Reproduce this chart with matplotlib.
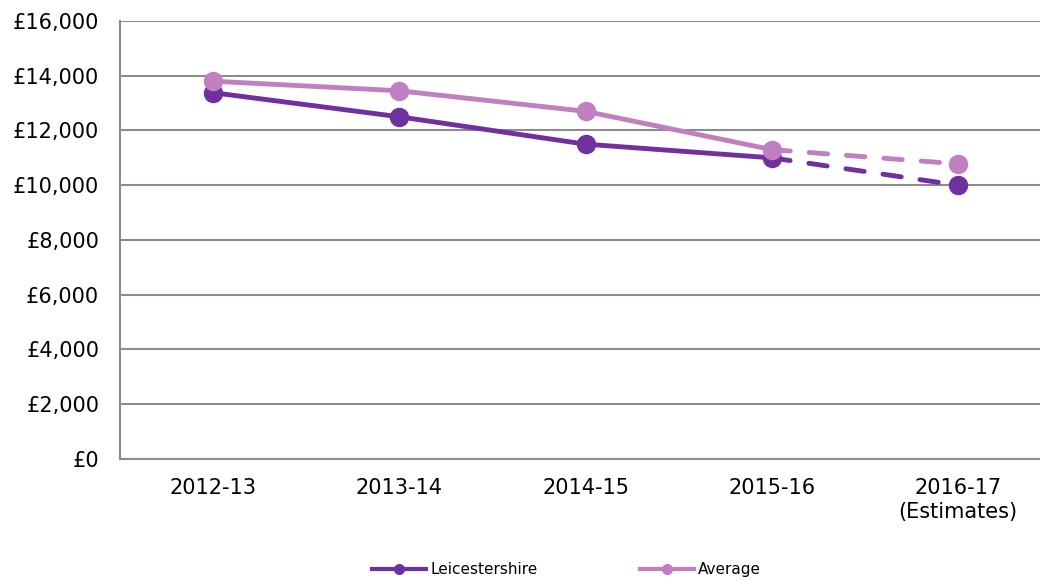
import numpy as np
import matplotlib
matplotlib.use("Agg")
import matplotlib.pyplot as plt
from matplotlib.lines import Line2D

# data
years = ["2012-13", "2013-14", "2014-15", "2015-16", "2016-17\n(Estimates)"]
leicestershire = [13380, 12500, 11500, 11000, 10000]
average = [13800, 13450, 12700, 11300, 10780]

dark = "#7030A0"
light = "#C07FC0"
grid_col = "#8C8C8C"

plt.rcParams["font.family"] = "DejaVu Sans"

fig = plt.figure(figsize=(10.4, 5.81), dpi=100)
ax = fig.add_axes([0.1154, 0.21, 0.8846, 0.7539])

x = np.arange(len(years))

for vals, col in [(leicestershire, dark), (average, light)]:
    # actual years solid, estimate dashed
    ax.plot(x[:4], vals[:4], color=col, lw=3.5, marker="o", markersize=13,
            solid_capstyle="round", zorder=3)
    ax.plot(x[3:], vals[3:], color=col, lw=3.5, linestyle=(0, (3.8, 3.9)),
            dash_capstyle="round", zorder=3)
    ax.plot(x[4:], vals[4:], color=col, lw=0, marker="o", markersize=13, zorder=3)

ax.set_ylim(0, 16000)
ax.set_xlim(-0.5, 4.44)
ax.set_yticks(np.arange(0, 16001, 2000))
ax.set_yticklabels(["£{:,}".format(v) for v in range(0, 16001, 2000)])
ax.set_xticks(x)
ax.set_xticklabels(years, linespacing=1.2)

ax.grid(axis="y", color=grid_col, lw=1.5)
ax.set_axisbelow(True)
for s in ["top", "right"]:
    ax.spines[s].set_visible(False)
for s in ["left", "bottom"]:
    ax.spines[s].set_color(grid_col)
    ax.spines[s].set_linewidth(1.5)

ax.tick_params(axis="both", length=0, labelsize=15, colors="#000000")
ax.tick_params(axis="y", pad=15)
ax.tick_params(axis="x", pad=14)

handles = [
    Line2D([], [], color=dark, lw=3, marker="o", markersize=7),
    Line2D([], [], color=light, lw=3, marker="o", markersize=7),
]
fig.legend(handles, ["Leicestershire", "Average"], loc="center",
           bbox_to_anchor=(0.545, 0.02), ncol=2, frameon=False, fontsize=11,
           handlelength=3.5, handletextpad=0.3, columnspacing=6.7)

fig.savefig("out.png", dpi=100)
